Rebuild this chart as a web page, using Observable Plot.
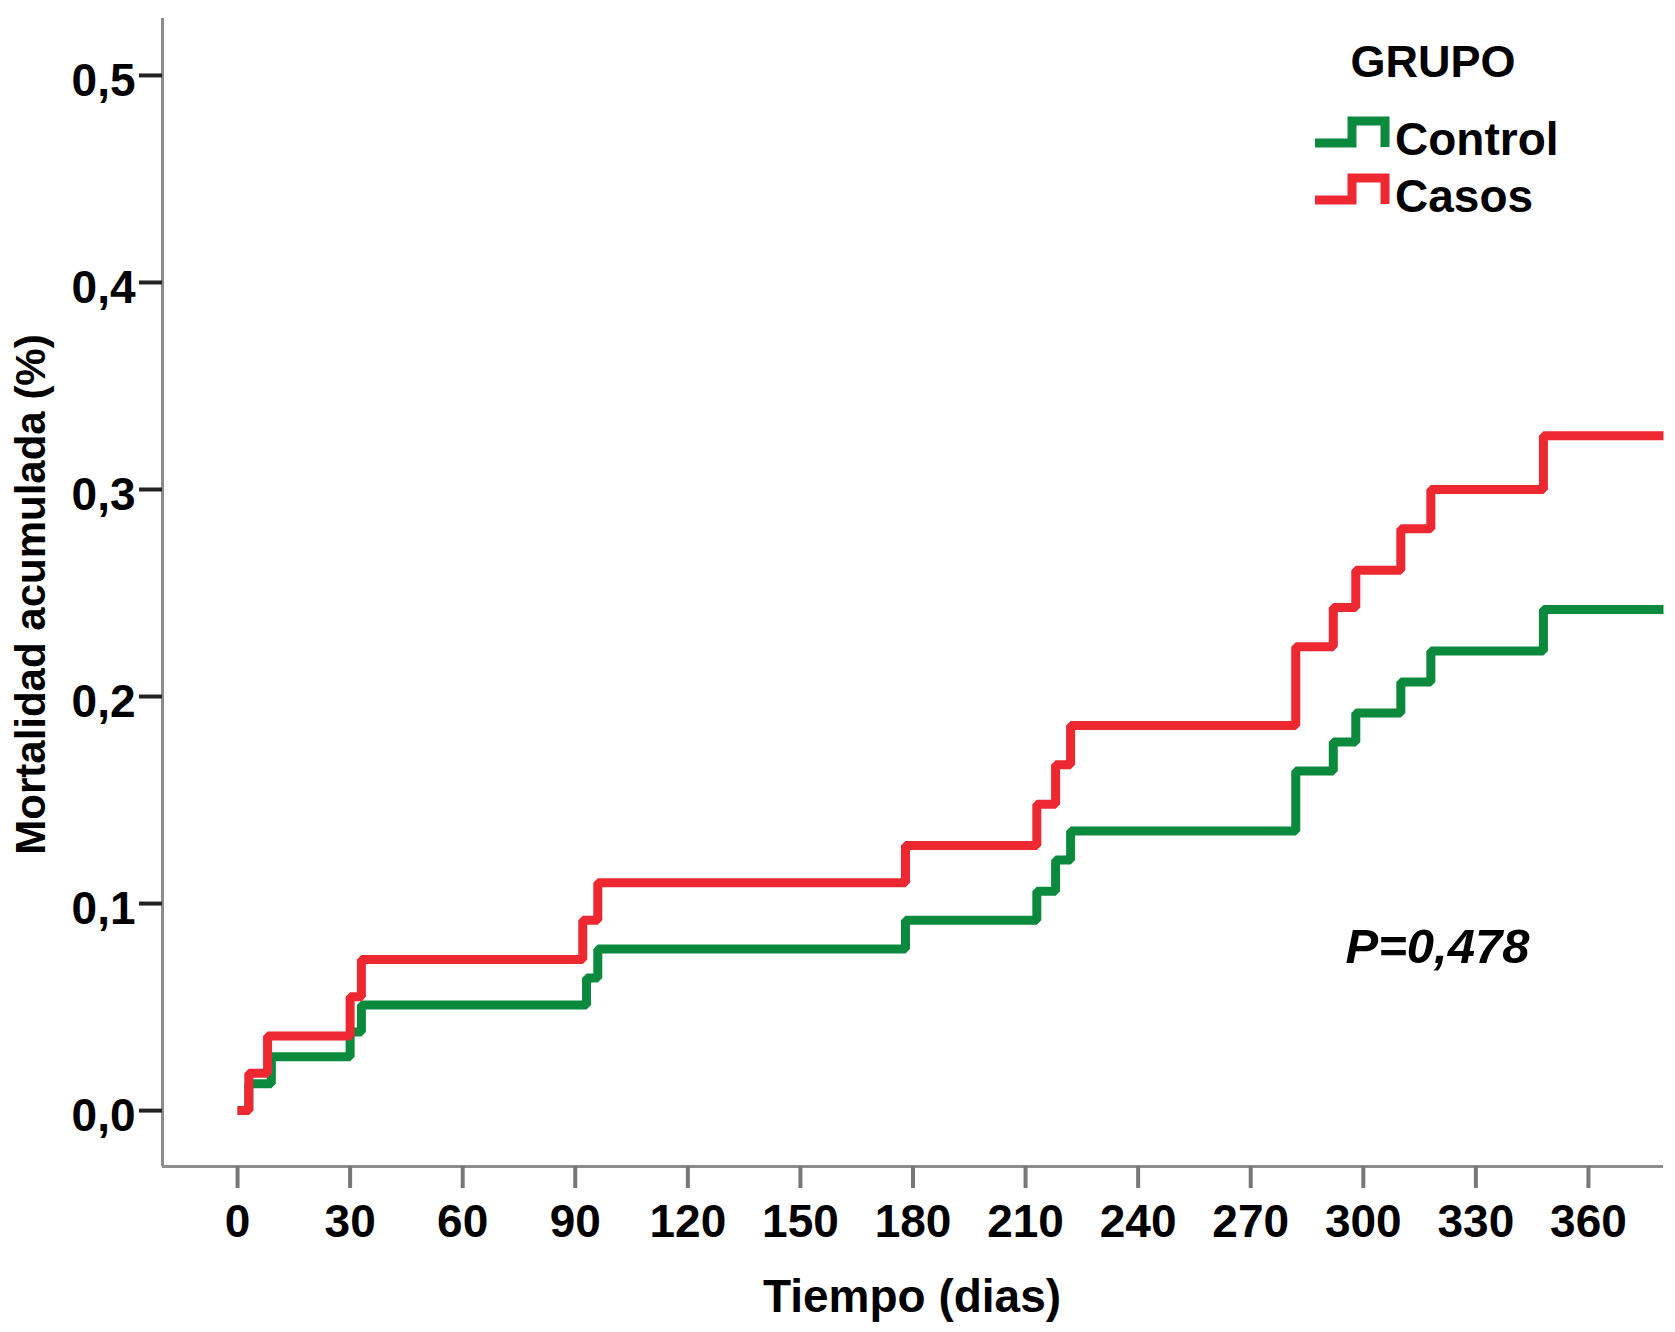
<!DOCTYPE html>
<html>
<head>
<meta charset="utf-8">
<script src="https://cdn.jsdelivr.net/npm/d3@7"></script>
<script src="https://cdn.jsdelivr.net/npm/@observablehq/plot@0.6"></script>
<style>
  html, body { margin: 0; padding: 0; background: #fff; }
  #wrap { position: relative; width: 1675px; height: 1332px; }
  #legend { position: absolute; left: 0; top: 0; pointer-events: none; }
</style>
</head>
<body>
<div id="wrap"></div>
<script>
// ---- data ----
const groups = ["Control", "Casos"];
const colors = ["#0b8a3e", "#ee2830"];

const controlDays   = [0, 3, 9, 30, 33, 93, 96, 178, 213, 218, 222, 282, 292, 298, 310, 318, 348, 380];
const controlValues = [0, 0.013, 0.026, 0.038, 0.051, 0.064, 0.078, 0.092, 0.106, 0.121, 0.135, 0.164, 0.178, 0.192, 0.207, 0.222, 0.242, 0.242];

const casosDays   = [0, 3, 8, 30, 33, 92, 96, 178, 213, 218, 222, 282, 292, 298, 310, 318, 348, 380];
const casosValues = [0, 0.018, 0.036, 0.055, 0.073, 0.092, 0.110, 0.128, 0.148, 0.167, 0.186, 0.224, 0.243, 0.261, 0.281, 0.300, 0.326, 0.326];

const xTicks = [0, 30, 60, 90, 120, 150, 180, 210, 240, 270, 300, 330, 360];
const yTicks = [0, 0.1, 0.2, 0.3, 0.4, 0.5];

const xTitle = "Tiempo (dias)";
const yTitle = "Mortalidad acumulada (%)";
const legendTitle = "GRUPO";
const pLabel = "P=0,478";

// ---- build table ----
const rows = [
  ...controlDays.map((d, i) => ({grupo: groups[0], day: d, value: controlValues[i]})),
  ...casosDays.map((d, i) => ({grupo: groups[1], day: d, value: casosValues[i]}))
];

const fmt = d => d.toFixed(1).replace(".", ",");
const font = "'Liberation Sans', Arial, Helvetica, sans-serif";

const chart = Plot.plot({
  width: 1675,
  height: 1332,
  marginLeft: 162,
  marginRight: 12,
  marginTop: 18,
  marginBottom: 166,
  style: {fontFamily: font, fontWeight: "bold", background: "#fff", color: "#000", overflow: "visible"},
  x: {domain: [-20, 380]},
  y: {domain: [-0.027, 0.5275]},
  color: {domain: groups, range: colors},
  marks: [
    Plot.ruleX([-20], {stroke: "#8c8c8c", strokeWidth: 3}),
    Plot.ruleY([-0.027], {stroke: "#8c8c8c", strokeWidth: 3}),
    // y ticks (no offset) and y labels (slightly lowered, as in the reference)
    Plot.axisY({ticks: yTicks, text: null, tickSize: 23, stroke: "#222", strokeWidth: 4, label: null}),
    Plot.axisY({ticks: yTicks, tickFormat: fmt, tickSize: 0, tickPadding: 27, fontSize: 46,
                fill: "#000", dy: 6, label: null}),
    Plot.axisX({ticks: xTicks, tickSize: 22, tickPadding: 16, fontSize: 46,
                stroke: "#777", strokeWidth: 4, fill: "#000", label: null}),
    Plot.line(rows, {x: "day", y: "value", z: "grupo", stroke: "grupo", curve: "step-after",
                     strokeWidth: 9, strokeLinejoin: "miter", strokeLinecap: "butt"}),
    Plot.text([xTitle], {frameAnchor: "bottom", dx: -1, dy: 131, lineAnchor: "middle", textAnchor: "middle",
                         fontSize: 46, fontWeight: "bold", fill: "#000"}),
    Plot.text([yTitle], {frameAnchor: "left", rotate: -90, dx: -131, dy: 2, lineAnchor: "middle",
                         textAnchor: "middle", fontSize: 42, fontWeight: "bold", fill: "#000"}),
    Plot.text([pLabel], {frameAnchor: "bottom-right", dx: -226, dy: -204, lineAnchor: "bottom",
                         textAnchor: "middle", fontSize: 49, fontWeight: "bold", fontStyle: "italic", fill: "#000"})
  ]
});

const wrap = document.getElementById("wrap");
wrap.appendChild(chart);

// ---- legend overlay ----
const leg = d3.select(wrap).append("svg")
  .attr("id", "legend")
  .attr("width", 1675).attr("height", 1332)
  .style("font-family", font).style("font-weight", "bold");

leg.append("text").attr("x", 1433).attr("y", 77).attr("text-anchor", "middle")
  .attr("font-size", 45).text(legendTitle);

groups.forEach((g, i) => {
  const base = 143 + i * 57;
  leg.append("path")
    .attr("d", `M1315,${base}H1352V${base - 22}H1385V${base + 4}`)
    .attr("fill", "none").attr("stroke", colors[i]).attr("stroke-width", 9)
    .attr("stroke-linejoin", "miter");
  leg.append("text").attr("x", 1395).attr("y", base + 12)
    .attr("font-size", 46).text(g);
});
</script>
</body>
</html>
